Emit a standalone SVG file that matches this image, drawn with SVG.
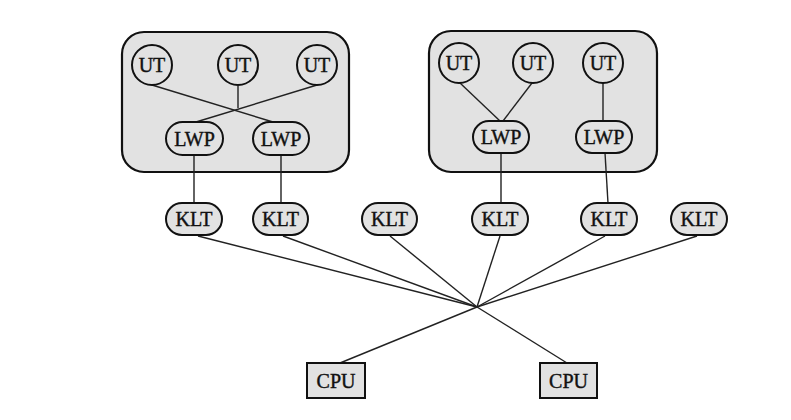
<svg xmlns="http://www.w3.org/2000/svg" width="791" height="420" viewBox="0 0 791 420">
<style>
.box{fill:#e2e2e2;stroke:#111;stroke-width:2.2}
.n{fill:#e2e2e2;stroke:#111;stroke-width:2}
.c{stroke:#222;stroke-width:1.4;fill:none}
text{font-family:"Liberation Serif","Times New Roman",serif;font-size:20px;fill:#111;stroke:#111;stroke-width:0.4;text-anchor:middle;dominant-baseline:central}
</style>
<rect width="791" height="420" fill="#ffffff"/>
<g id="process1"><rect class="box" x="122" y="32" width="227" height="140" rx="22"/></g>
<g id="process2"><rect class="box" x="429" y="31" width="228" height="141" rx="22"/></g>
<g id="connectors">
<line class="c" x1="152" y1="85" x2="273" y2="122"/>
<line class="c" x1="317" y1="85" x2="196" y2="122"/>
<line class="c" x1="238" y1="86" x2="238" y2="108"/>
<line class="c" x1="460" y1="83" x2="500" y2="121"/>
<line class="c" x1="532" y1="83" x2="503" y2="121"/>
<line class="c" x1="603" y1="83" x2="603" y2="121"/>
<line class="c" x1="194" y1="155" x2="194" y2="203"/>
<line class="c" x1="281" y1="155" x2="281" y2="203"/>
<line class="c" x1="501" y1="153" x2="501" y2="203"/>
<line class="c" x1="605" y1="153" x2="608" y2="203"/>
<line class="c" x1="198" y1="236" x2="477" y2="307"/>
<line class="c" x1="283" y1="236" x2="477" y2="307"/>
<line class="c" x1="390" y1="236" x2="477" y2="307"/>
<line class="c" x1="500" y1="236" x2="477" y2="307"/>
<line class="c" x1="605" y1="236" x2="477" y2="307"/>
<line class="c" x1="697" y1="236" x2="477" y2="307"/>
<line class="c" x1="340" y1="363" x2="477" y2="307"/>
<line class="c" x1="567" y1="363" x2="477" y2="307"/>
</g>
<g id="ut1"><circle class="n" cx="152" cy="65" r="20"/><text x="152" y="65">UT</text></g>
<g id="ut2"><circle class="n" cx="238" cy="65" r="20"/><text x="238" y="65">UT</text></g>
<g id="ut3"><circle class="n" cx="317" cy="65" r="20"/><text x="317" y="65">UT</text></g>
<g id="ut4"><circle class="n" cx="459" cy="63" r="20"/><text x="459" y="63">UT</text></g>
<g id="ut5"><circle class="n" cx="533" cy="63" r="20"/><text x="533" y="63">UT</text></g>
<g id="ut6"><circle class="n" cx="603" cy="63" r="20"/><text x="603" y="63">UT</text></g>
<g id="lwp1"><rect class="n" x="166" y="122" width="57" height="33" rx="16.5"/><text x="194.5" y="138.5">LWP</text></g>
<g id="lwp2"><rect class="n" x="253" y="122" width="56" height="33" rx="16.5"/><text x="281" y="138.5">LWP</text></g>
<g id="lwp3"><rect class="n" x="473" y="121" width="56" height="32" rx="16"/><text x="501" y="137">LWP</text></g>
<g id="lwp4"><rect class="n" x="576" y="121" width="56" height="32" rx="16"/><text x="604" y="137">LWP</text></g>
<g id="klt1"><rect class="n" x="166" y="203" width="56" height="32" rx="16"/><text x="194" y="219">KLT</text></g>
<g id="klt2"><rect class="n" x="253" y="203" width="55" height="32" rx="16"/><text x="280.5" y="219">KLT</text></g>
<g id="klt3"><rect class="n" x="362" y="203" width="55" height="32" rx="16"/><text x="389.5" y="219">KLT</text></g>
<g id="klt4"><rect class="n" x="472" y="203" width="56" height="32" rx="16"/><text x="500" y="219">KLT</text></g>
<g id="klt5"><rect class="n" x="581" y="203" width="56" height="32" rx="16"/><text x="609" y="219">KLT</text></g>
<g id="klt6"><rect class="n" x="671" y="203" width="56" height="32" rx="16"/><text x="699" y="219">KLT</text></g>
<g id="cpu1"><rect class="n" x="307" y="363" width="58" height="35"/><text x="336" y="380.5">CPU</text></g>
<g id="cpu2"><rect class="n" x="540" y="363" width="57" height="35"/><text x="568.5" y="380.5">CPU</text></g>
</svg>
